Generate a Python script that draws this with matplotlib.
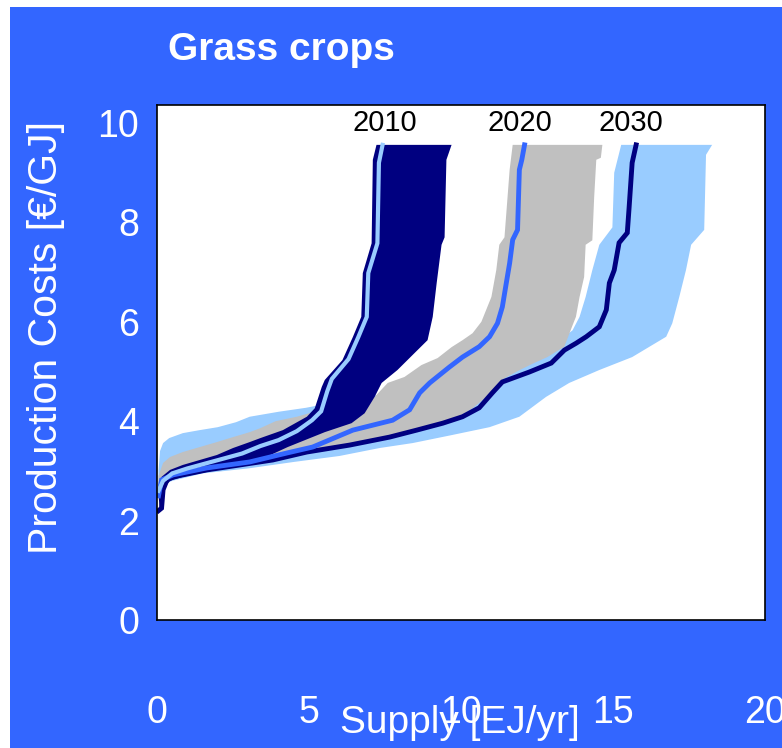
import matplotlib
matplotlib.use("Agg")
import matplotlib.pyplot as plt
from matplotlib.patches import Rectangle

plt.rcParams['font.family'] = ['Liberation Sans', 'DejaVu Sans']

# supply ranges per year: upper/left edge and lower/right edge of each band, as (supply, cost)
band_2010_upper = [(0.05, 2.5), (0.15, 2.88), (0.43, 3.02), (0.85, 3.12), (1.41, 3.22), (1.97, 3.32),
                   (2.5, 3.46), (3.05, 3.58), (3.4, 3.66), (4.14, 3.82), (4.93, 4.09), (5.19, 4.26),
                   (5.42, 4.69), (5.52, 4.83), (6.1, 5.23), (6.44, 5.69), (6.72, 6.1), (6.77, 6.98),
                   (7.06, 7.58), (7.1, 9.26), (7.22, 9.56)]
band_2010_lower = [(9.69, 9.56), (9.52, 9.26), (9.46, 7.7), (9.36, 7.55), (9.2, 6.78), (9.07, 6.1),
                   (8.9, 5.63), (8.47, 5.37), (7.91, 5.03), (7.39, 4.77), (7.16, 4.49), (6.83, 4.16),
                   (6.4, 3.96), (5.52, 3.78), (4.3, 3.48), (3.38, 3.22), (2.5, 3.1), (1.97, 3.02),
                   (1.4, 2.95), (0.85, 2.88), (0.43, 2.8), (0.15, 2.6), (0.1, 2.2)]

band_2020_upper = [(0.05, 2.9), (0.2, 3.16), (0.43, 3.28), (0.85, 3.38), (1.41, 3.48), (1.97, 3.58),
                   (2.5, 3.68), (3.05, 3.78), (3.4, 3.86), (3.9, 4.0), (4.6, 4.09), (5.0, 4.16),
                   (6.0, 4.3), (7.16, 4.49), (7.59, 4.77), (8.14, 4.89), (8.7, 5.13), (9.23, 5.27),
                   (9.69, 5.49), (10.05, 5.63), (10.38, 5.77), (10.67, 6.0), (11.0, 6.5), (11.16, 7.04),
                   (11.26, 7.55), (11.43, 7.7), (11.53, 8.5), (11.6, 9.06), (11.7, 9.56)]
band_2020_lower = [(14.65, 9.56), (14.6, 9.3), (14.45, 9.26), (14.38, 8.5), (14.32, 7.64), (14.1, 7.55),
                   (14.05, 6.9), (13.9, 6.5), (13.78, 6.1), (13.67, 5.93), (13.4, 5.5), (12.84, 5.29),
                   (12.4, 5.17), (11.9, 5.02), (11.3, 4.82), (10.9, 4.52), (10.4, 4.27), (9.8, 4.04),
                   (8.5, 3.84), (7.3, 3.66), (6.3, 3.54), (5.0, 3.38), (3.8, 3.24), (2.7, 3.12),
                   (1.6, 3.02), (0.5, 2.88), (0.15, 2.7), (0.05, 2.5)]

band_2030_upper = [(0.05, 3.0), (0.1, 3.4), (0.2, 3.56), (0.4, 3.66), (0.85, 3.76), (1.4, 3.82),
                   (2.0, 3.88), (2.6, 3.98), (3.05, 4.09), (4.0, 4.19), (4.9, 4.27), (6.0, 4.4),
                   (8.0, 4.6), (10.0, 4.9), (12.0, 5.2), (13.2, 5.6), (13.67, 5.83), (13.9, 6.1),
                   (14.1, 6.5), (14.32, 7.04), (14.55, 7.55), (14.98, 7.9), (15.04, 9.0), (15.27, 9.56)]
band_2030_lower = [(18.26, 9.56), (18.06, 9.36), (18.0, 7.85), (17.57, 7.55), (17.4, 7.04), (17.18, 6.5),
                   (16.95, 5.97), (16.75, 5.7), (15.63, 5.29), (14.55, 5.03), (13.56, 4.77), (12.8, 4.49),
                   (11.92, 4.09), (10.94, 3.88), (9.69, 3.72), (8.41, 3.56), (7.32, 3.46), (6.0, 3.3),
                   (4.5, 3.18), (3.0, 3.05), (1.5, 2.95), (0.5, 2.8), (0.15, 2.7), (0.05, 2.5)]

# one reference scenario per year
line_2010 = [(0.05, 2.6), (0.2, 2.8), (0.5, 2.95), (1.0, 3.05), (1.6, 3.15), (2.2, 3.25), (2.8, 3.35),
             (3.4, 3.5), (4.0, 3.62), (4.6, 3.8), (5.1, 4.02), (5.4, 4.2), (5.6, 4.6), (5.75, 4.85),
             (6.3, 5.25), (6.62, 5.69), (6.9, 6.1), (6.95, 6.98), (7.25, 7.58), (7.3, 9.2), (7.42, 9.56)]
line_2020 = [(0.05, 2.5), (0.15, 2.82), (0.53, 2.92), (1.64, 3.06), (3.05, 3.18), (4.27, 3.36),
             (5.12, 3.48), (6.44, 3.82), (7.75, 4.02), (8.31, 4.23), (8.64, 4.57), (8.97, 4.77),
             (9.62, 5.09), (10.05, 5.29), (10.6, 5.5), (10.94, 5.7), (11.2, 5.97), (11.36, 6.3),
             (11.49, 6.78), (11.6, 7.18), (11.7, 7.65), (11.86, 7.85), (11.92, 9.06), (12.0, 9.26),
             (12.09, 9.56)]
line_2030 = [(0.05, 2.2), (0.15, 2.25), (0.2, 2.62), (0.33, 2.82), (0.53, 2.88), (1.64, 3.02),
             (2.73, 3.12), (3.81, 3.22), (4.93, 3.38), (6.34, 3.52), (7.65, 3.68), (8.54, 3.82),
             (9.4, 3.96), (10.05, 4.09), (10.6, 4.27), (11.03, 4.57), (11.36, 4.79), (12.25, 4.99),
             (12.97, 5.17), (13.4, 5.43), (13.79, 5.57), (14.12, 5.7), (14.55, 5.9), (14.78, 6.24),
             (14.88, 6.78), (15.04, 7.04), (15.2, 7.59), (15.47, 7.79), (15.53, 8.3), (15.63, 9.2),
             (15.76, 9.56)]

year_labels = ["2010", "2020", "2030"]
year_label_pos = [(7.5, 10.0), (11.95, 10.0), (15.6, 10.0)]

x_ticks = [0, 5, 10, 15, 20]
y_ticks = [0, 2, 4, 6, 8, 10]

BG = "#3366FF"
NAVY = "#000080"
LIGHT = "#99CCFF"
GREY = "#C0C0C0"


def band_polygon(upper, lower):
    pts = upper + lower
    return [p[0] for p in pts], [p[1] for p in pts]


def xy(points):
    return [p[0] for p in points], [p[1] for p in points]


fig = plt.figure(figsize=(7.82, 7.48), dpi=100)
fig.patch.set_facecolor("white")
fig.patches.append(Rectangle((10 / 782, 0), 1, 1 - 7 / 748, transform=fig.transFigure,
                             facecolor=BG, edgecolor="none", zorder=-10))

ax = fig.add_axes([157 / 782, 128 / 748, 608 / 782, 515 / 748])
ax.set_facecolor("white")
ax.set_zorder(1)

for upper, lower, color in [(band_2030_upper, band_2030_lower, LIGHT),
                            (band_2020_upper, band_2020_lower, GREY),
                            (band_2010_upper, band_2010_lower, NAVY)]:
    bx, by = band_polygon(upper, lower)
    ax.fill(bx, by, color=color, linewidth=0)

for pts, color, lw in [(line_2030, NAVY, 3.5), (line_2020, BG, 3.5), (line_2010, LIGHT, 3.0)]:
    lx, ly = xy(pts)
    ax.plot(lx, ly, color=color, linewidth=lw, solid_joinstyle="miter")

for label, (tx, ty) in zip(year_labels, year_label_pos):
    ax.text(tx, ty, label, ha="center", va="center", fontsize=21, color="black")

ax.set_xlim(0, 20)
ax.set_ylim(0, 515 / 49.7)
ax.set_xticks(x_ticks)
ax.set_yticks(y_ticks)
ax.tick_params(axis="both", length=0, colors="white", labelsize=27)
ax.tick_params(axis="x", pad=54)
ax.tick_params(axis="y", pad=13)
for spine in ax.spines.values():
    spine.set_color("black")
    spine.set_linewidth(1.2)

fig.text(168 / 782, 1 - 60 / 748, "Grass crops", fontsize=28, fontweight="bold",
         color="white", ha="left", va="baseline")
fig.text(460 / 782, 1 - 733 / 748, "Supply [EJ/yr]", fontsize=28, color="white",
         ha="center", va="baseline")
fig.text(46 / 782, 1 - 338 / 748, "Production Costs [\u20ac/GJ]", fontsize=29.5, color="white",
         ha="center", va="center", rotation=90)

fig.savefig("out.png", dpi=100, facecolor=fig.get_facecolor())
